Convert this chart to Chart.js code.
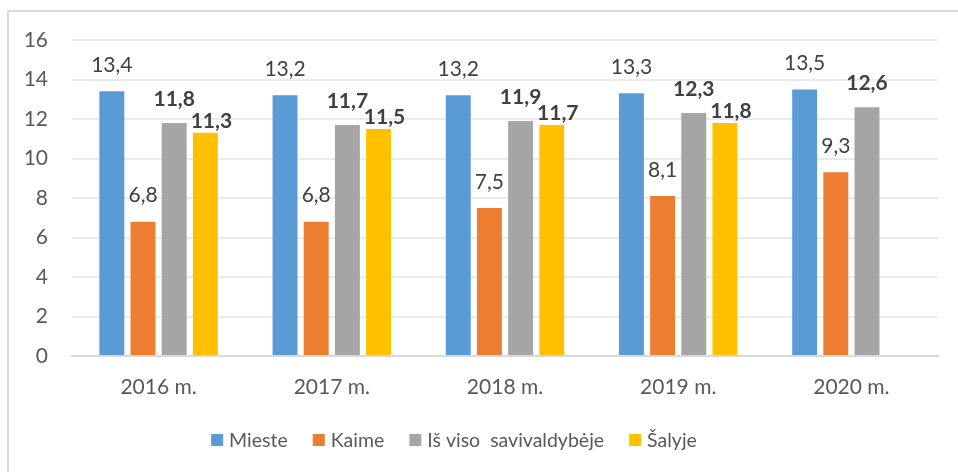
<!DOCTYPE html>
<html>
<head>
<meta charset="utf-8">
<script src="https://cdn.jsdelivr.net/npm/chart.js@4"></script>
<style>
  html, body { margin: 0; padding: 0; background: #fff; }
  #wrap { position: relative; width: 958px; height: 472px; }
  #frame {
    position: absolute; left: 7px; top: 10px; right: 0; bottom: 0;
    border-top: 2px solid #d9d9d9; border-left: 2px solid #d9d9d9;
    pointer-events: none;
  }
  canvas { position: absolute; left: 0; top: 0; }
</style>
</head>
<body>
<div id="wrap">
  <canvas id="chart" width="958" height="472"></canvas>
  <div id="frame"></div>
</div>
<script>
// chart values
const years = ['2016 m.', '2017 m.', '2018 m.', '2019 m.', '2020 m.'];
const mieste = [13.4, 13.2, 13.2, 13.3, 13.5];
const kaime = [6.8, 6.8, 7.5, 8.1, 9.3];
const isViso = [11.8, 11.7, 11.9, 12.3, 12.6];
const salyje = [11.3, 11.5, 11.7, 11.8, null];

const FONT = 'Lato, sans-serif';

// draws the value over each bar (comma as decimal mark)
const valueLabels = {
    id: 'valueLabels',
    afterDatasetsDraw(chart) {
        const ctx = chart.ctx;
        ctx.save();
        ctx.textAlign = 'center';
        ctx.textBaseline = 'middle';
        chart.data.datasets.forEach((ds, i) => {
            const meta = chart.getDatasetMeta(i);
            const lbl = ds.valueLabel || {};
            ctx.font = (lbl.bold ? 'bold ' : '') + '21px ' + FONT;
            ctx.fillStyle = '#404040';
            meta.data.forEach((bar, j) => {
                const v = ds.data[j];
                if (v === null) return;
                ctx.fillText(v.toFixed(1).replace('.', ','),
                    bar.x + (lbl.dx || 0), bar.y - (lbl.lift || 26));
            });
        });
        ctx.restore();
    }
};

// legend row under the axis, spaced like the original
const bottomLegend = {
    id: 'bottomLegend',
    afterDraw(chart) {
        const ctx = chart.ctx;
        const y = 440, box = 12, textGap = 18, itemGap = 25, centerX = 454;
        ctx.save();
        ctx.font = '19.5px ' + FONT;
        ctx.textBaseline = 'middle';
        ctx.textAlign = 'left';
        const items = chart.data.datasets.map(ds => ({
            text: ds.label, color: ds.backgroundColor,
            w: textGap + ctx.measureText(ds.label).width
        }));
        const total = items.reduce((s, it) => s + it.w, 0) + itemGap * (items.length - 1);
        let x = centerX - total / 2;
        items.forEach(it => {
            ctx.fillStyle = it.color;
            ctx.fillRect(x, y - box / 2, box, box);
            ctx.fillStyle = '#595959';
            ctx.fillText(it.text, x + textGap, y + 1);
            x += it.w + itemGap;
        });
        ctx.restore();
    }
};

new Chart(document.getElementById('chart'), {
    type: 'bar',
    data: {
        labels: years,
        datasets: [
            { label: 'Mieste', data: mieste, backgroundColor: '#5B9BD5' },
            { label: 'Kaime', data: kaime, backgroundColor: '#ED7D31' },
            { label: 'Iš viso  savivaldybėje', data: isViso, backgroundColor: '#A5A5A5',
              valueLabel: { bold: true, lift: 24 } },
            { label: 'Šalyje', data: salyje, backgroundColor: '#FFC000',
              valueLabel: { bold: true, lift: 12, dx: 6 } }
        ]
    },
    options: {
        responsive: false,
        animation: false,
        datasets: { bar: { categoryPercentage: 0.72, barPercentage: 0.8 } },
        layout: { padding: { top: 40, right: 20, bottom: 57, left: 0 } },
        plugins: {
            tooltip: { enabled: false },
            legend: { display: false }
        },
        scales: {
            x: {
                grid: { display: false, drawTicks: false },
                border: { color: '#d9d9d9', width: 2 },
                ticks: { color: '#595959', padding: 19, font: { family: FONT, size: 21 } },
                afterFit(scale) { scale.height = 59; }
            },
            y: {
                min: 0, max: 16,
                ticks: { stepSize: 2, color: '#595959', padding: 24, font: { family: FONT, size: 21 } },
                grid: { color: '#ebebeb', lineWidth: 2, drawTicks: false },
                border: { display: false },
                afterFit(scale) { scale.width = 72; }
            }
        }
    },
    plugins: [valueLabels, bottomLegend]
});
</script>
</body>
</html>
